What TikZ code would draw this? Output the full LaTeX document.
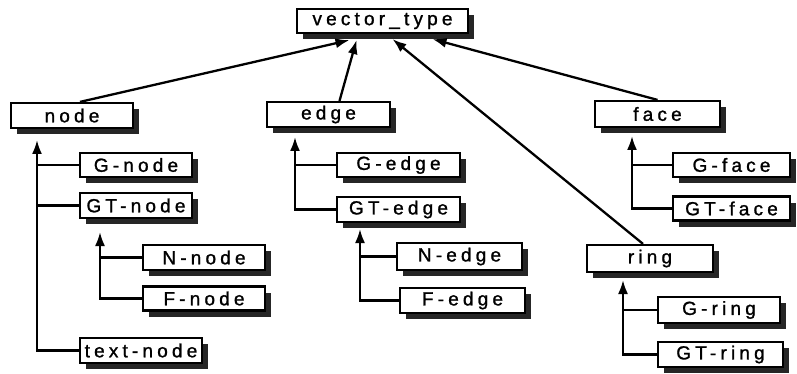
\documentclass[tikz,border=0pt]{standalone}
\usepackage{fontspec}
\setmainfont{Liberation Sans}[LetterSpace=22,FakeBold=1.2]
\usetikzlibrary{arrows.meta,shadows,calc}
\tikzset{
  box/.style={draw, line width=2.2pt, fill=white, inner sep=0pt,
    font=\fontsize{19}{19}\selectfont,
    drop shadow={shadow xshift=6pt, shadow yshift=-6pt, fill=black!85, opacity=1}},
  conn/.style={line width=2.3pt},
  arr/.style={conn, -{Latex[length=14pt,width=10pt]}}
}
\begin{document}
\begin{tikzpicture}[x=1pt,y=-1pt]
\useasboundingbox (0,0) rectangle (797,374);
% boxes
\node[box, minimum width=171pt, minimum height=24pt] (vt) at (382.5,21) {vector\_type};
\node[box, minimum width=122pt, minimum height=25pt] (node) at (72,115.5) {node};
\node[box, minimum width=112pt, minimum height=24pt] (Gnode) at (136,165) {G-node};
\node[box, minimum width=112pt, minimum height=25pt] (GTnode) at (136,205.5) {GT-node};
\node[box, minimum width=122pt, minimum height=25pt] (Nnode) at (204,257.5) {N-node};
\node[box, minimum width=122pt, minimum height=24pt] (Fnode) at (204,298.5) {F-node};
\node[box, minimum width=122pt, minimum height=25pt] (textnode) at (141,350.5) {text-node};
\node[box, minimum width=123pt, minimum height=25pt] (edge) at (328.5,114.5) {edge};
\node[box, minimum width=123pt, minimum height=24pt] (Gedge) at (398.5,165) {G-edge};
\node[box, minimum width=123pt, minimum height=25pt] (GTedge) at (398.5,209.5) {GT-edge};
\node[box, minimum width=125pt, minimum height=27pt] (Nedge) at (459.5,256.5) {N-edge};
\node[box, minimum width=125pt, minimum height=25pt] (Fedge) at (462.5,300.5) {F-edge};
\node[box, minimum width=125pt, minimum height=26pt] (face) at (657.5,114) {face};
\node[box, minimum width=117pt, minimum height=24pt] (Gface) at (731.5,165) {G-face};
\node[box, minimum width=117pt, minimum height=24pt] (GTface) at (731.5,208.5) {GT-face};
\node[box, minimum width=126pt, minimum height=27pt] (ring) at (650,258.5) {ring};
\node[box, minimum width=122pt, minimum height=26pt] (Gring) at (719,310) {G-ring};
\node[box, minimum width=125pt, minimum height=25pt] (GTring) at (720.5,354.5) {GT-ring};
% tips of the vertical trunks
\coordinate (tnode) at (37,140);
\coordinate (tGTnode) at (100,232);
\coordinate (tedge) at (295,137);
\coordinate (tGTedge) at (360,229);
\coordinate (tface) at (632,136);
\coordinate (tring) at (623,280);
% trunks
\draw[arr] (textnode.west) -| (tnode);
\draw[conn] (Gnode.west) -- (Gnode.west -| tnode);
\draw[conn] (GTnode.west) -- (GTnode.west -| tnode);
\draw[arr] (Fnode.west) -| (tGTnode);
\draw[conn] (Nnode.west) -- (Nnode.west -| tGTnode);
\draw[arr] (GTedge.west) -| (tedge);
\draw[conn] (Gedge.west) -- (Gedge.west -| tedge);
\draw[arr] (Fedge.west) -| (tGTedge);
\draw[conn] (Nedge.west) -- (Nedge.west -| tGTedge);
\draw[arr] (GTface.west) -| (tface);
\draw[conn] (Gface.west) -- (Gface.west -| tface);
\draw[arr] (GTring.west) -| (tring);
\draw[conn] (Gring.west) -- (Gring.west -| tring);
% to vector_type
\draw[arr] ([xshift=8pt]node.north) -- ([xshift=-33pt,yshift=-6pt]vt.south);
\draw[arr] ([xshift=11pt]edge.north) -- ([xshift=-26pt,yshift=-6pt]vt.south);
\draw[arr] ([xshift=-7pt]ring.north) -- ([xshift=10pt,yshift=-5pt]vt.south);
\draw[arr] ([xshift=0pt]face.north) -- ([xshift=50pt,yshift=-5pt]vt.south);
\end{tikzpicture}
\end{document}
